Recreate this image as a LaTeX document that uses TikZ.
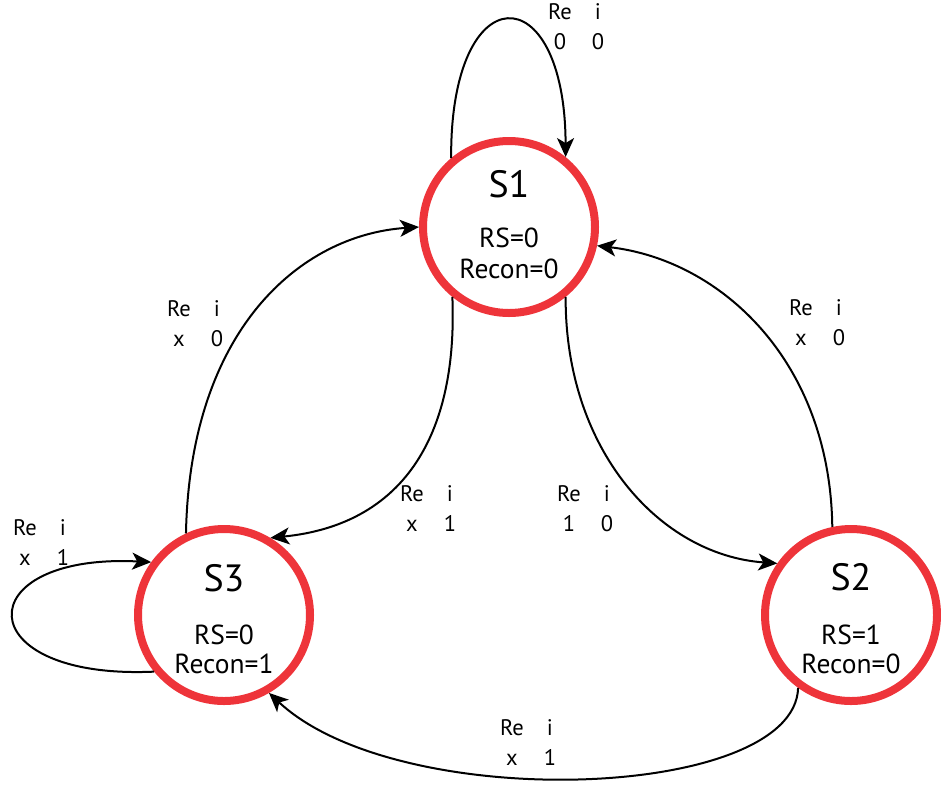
\documentclass[tikz,border=0pt]{standalone}
\usepackage{fontspec}
\setmainfont{PT Sans}
\usepackage{array}
\usetikzlibrary{arrows.meta}

\definecolor{statered}{RGB}{238,52,58}

% two-column transition label: input names on top, values below
\newcommand{\trans}[4]{{\fontsize{22.5}{30}\selectfont
  \begin{tabular}{@{}wc{26pt}@{\hspace{12pt}}wc{26pt}@{}}#1&#2\\#3&#4\end{tabular}}}

\begin{document}
\begin{tikzpicture}[x=1pt,y=-1pt,
  state/.style={circle, draw=statered, line width=8pt, minimum size=172pt,
    inner sep=0pt, outer sep=4pt, fill=white},
  title/.style={font=\fontsize{38}{40}\selectfont},
  outs/.style={inner sep=0pt, font=\fontsize{27.5}{30}\selectfont},
  link/.style={draw=black, line width=2pt,
    -{Stealth[length=19pt,width=17pt,inset=5pt]}},
  cond/.style={inner sep=0pt}]
\useasboundingbox (0,0) rectangle (941,785);

% states
\node[state] (S1) at (509,227) {};
\node[state] (S2) at (851,615) {};
\node[state] (S3) at (224,615) {};

% state names and outputs
\node[title] (S1t) at (509,184) {S1};
\node[outs] (S1rs) at (509,238) {RS=0};
\node[outs] (S1rc) at (509,269) {Recon=0};
\node[title] (S2t) at (851,577) {S2};
\node[outs] (S2rs) at (851,635) {RS=1};
\node[outs] (S2rc) at (851,664) {Recon=0};
\node[title] (S3t) at (224,578) {S3};
\node[outs] (S3rs) at (224,635) {RS=0};
\node[outs] (S3rc) at (224,664) {Recon=1};

% transitions
\draw[link] (S1.130) .. controls (450,-26) and (565,-26) .. (S1.51);
\draw[link] (S3.115) .. controls (190,330) and (300,235) .. (S1.180);
\draw[link] (S2.102) .. controls (830,360) and (720,260) .. (S1.-12);
\draw[link] (S1.231) .. controls (458,440) and (400,525) .. (S3.59);
\draw[link] (S1.-51) .. controls (565,450) and (660,555) .. (S2.145);
\draw[link] (S3.219) .. controls (-33,680) and (-33,553) .. (S3.144);
\draw[link] (S2.234) .. controls (795,800) and (400,815) .. (S3.-60);

% transition conditions
\node[cond] (c11) at (579,28)  {\trans{Re}{i}{0}{0}};
\node[cond] (c31) at (198,325) {\trans{Re}{i}{x}{0}};
\node[cond] (c21) at (820,324) {\trans{Re}{i}{x}{0}};
\node[cond] (c13) at (431,510) {\trans{Re}{i}{x}{1}};
\node[cond] (c12) at (588,510) {\trans{Re}{i}{1}{0}};
\node[cond] (c33) at (44,544)  {\trans{Re}{i}{x}{1}};
\node[cond] (c23) at (531,744) {\trans{Re}{i}{x}{1}};
\end{tikzpicture}
\end{document}
